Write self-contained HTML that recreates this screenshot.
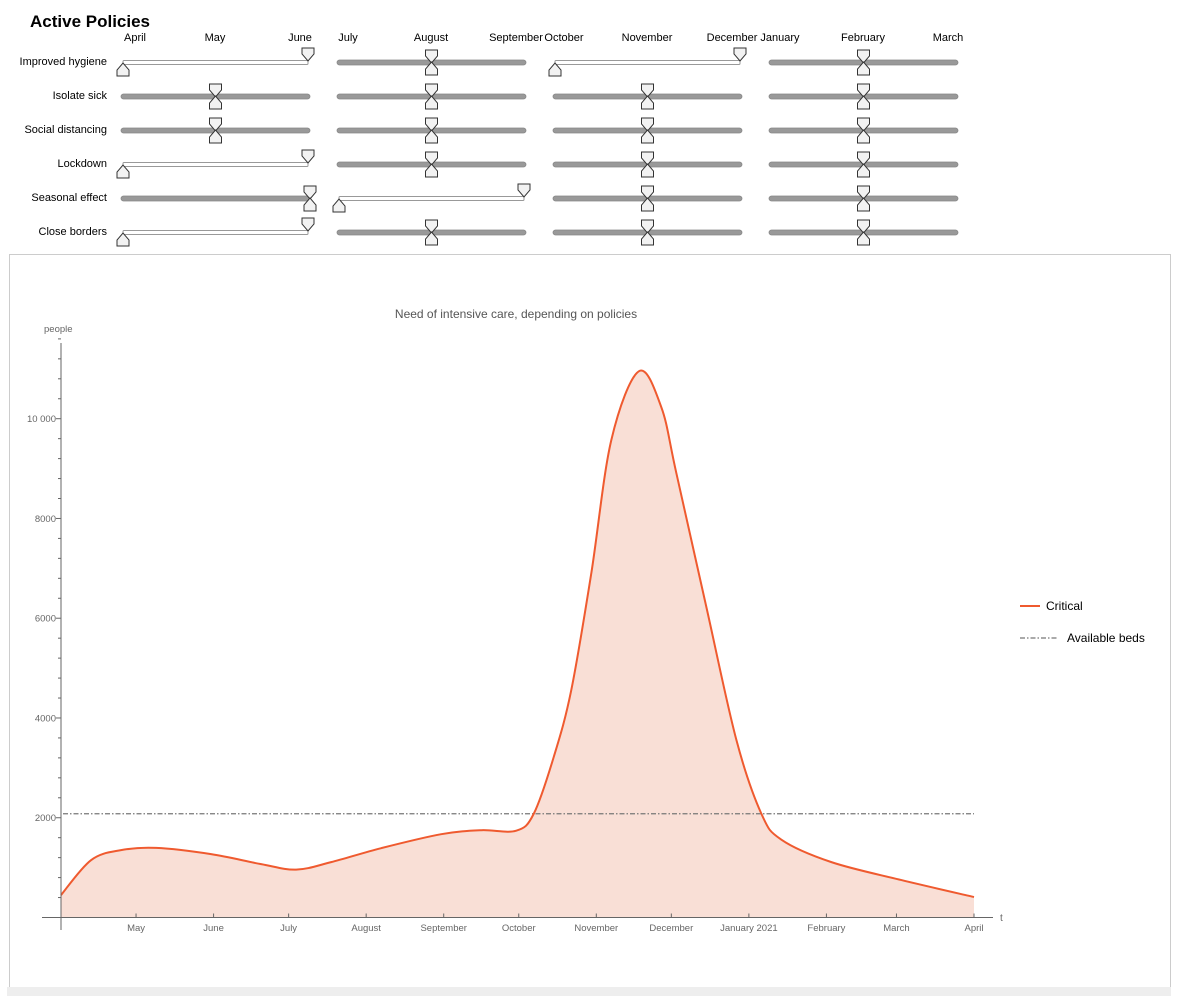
<!DOCTYPE html>
<html><head><meta charset="utf-8"><title>Active Policies</title>
<style>
html,body{margin:0;padding:0;background:#fff;width:1184px;height:998px;overflow:hidden;font-family:"Liberation Sans",sans-serif}
svg{display:block}
</style></head>
<body>
<svg id="root" width="1184" height="998" xmlns="http://www.w3.org/2000/svg">
  <text x="30" y="27" font-size="17" font-weight="bold" fill="#000">Active Policies</text>
  <g id="sliders"></g>
  <rect x="9.5" y="254.5" width="1161" height="734" fill="#fff" stroke="#ccc"/>
  <rect x="7" y="987" width="1164" height="9" fill="#eeeeee"/>
  <g id="chart"></g>
</svg>
<script>
const NS='http://www.w3.org/2000/svg';
function mk(tag,attrs,parent){const e=document.createElementNS(NS,tag);for(const k in attrs)e.setAttribute(k,attrs[k]);parent.appendChild(e);return e;}

// ----- slider panel data -----
const policies=['Improved hygiene','Isolate sick','Social distancing','Lockdown','Seasonal effect','Close borders'];
const monthLabels=[['April','May','June'],['July','August','September'],['October','November','December'],['January','February','March']];
// state: 'r' = active range, number = collapsed position (0..1)
const states=[
 ['r',0.5,'r',0.5],
 [0.5,0.5,0.5,0.5],
 [0.5,0.5,0.5,0.5],
 ['r',0.5,0.5,0.5],
 [1,'r',0.5,0.5],
 ['r',0.5,0.5,0.5]
];
const sl=document.getElementById('sliders');
const colX=[121,337,553,769], trackW=189, rowY0=62, rowDy=34;
const monthOffsets=[14,94,179];
monthLabels.forEach((ms,c)=>{
  const anchors=[[c===0?135:colX[c]+11,'middle'],[colX[c]+94,'middle'],[colX[c]+trackW-10,'middle']];
  ms.forEach((m,i)=>{
    const t=mk('text',{x:anchors[i][0],y:41,'font-size':11,'text-anchor':'middle',fill:'#000'},sl);
    
    
    t.textContent=m;
  });
});
function thumbDown(x,y,p){ // top thumb pointing down, tip at y
  const d=`M${x-6},${y-13} h12 v6 l-6,7 l-6,-7 z`;
  return mk('path',{d,fill:'#f2f2f2',stroke:'#333','stroke-width':1},p);
}
function thumbUp(x,y,p){ // bottom thumb pointing up, tip at y
  const d=`M${x-6},${y+13} h12 v-6 l-6,-7 l-6,7 z`;
  return mk('path',{d,fill:'#f2f2f2',stroke:'#333','stroke-width':1},p);
}
policies.forEach((p,r)=>{
  const y=rowY0+r*rowDy;
  const lab=mk('text',{x:107,y:y+3,'font-size':11,'text-anchor':'end',fill:'#000'},sl);
  
  
  lab.textContent=p;
  states[r].forEach((s,c)=>{
    const g=mk('g',{},sl);
    
    
    const x0=colX[c], x1=colX[c]+trackW;
    if(s==='r'){
      mk('rect',{x:x0+2,y:y-1.5,width:trackW-4,height:4,fill:'#fff',stroke:'#999','stroke-width':1,rx:1},g);
      const a=thumbUp(x0+2,y+1,g);
      
      const b=thumbDown(x1-2,y-1,g);
      
    }else{
      mk('rect',{x:x0,y:y-2,width:trackW,height:5,fill:'#999',stroke:'#888','stroke-width':0.8,rx:2.5},g);
      const tx=x0+s*trackW;
      const a=thumbDown(tx,y+1,g);
      
      const b=thumbUp(tx,y,g);
      
    }
  });
});

// ----- chart data -----
const days=[0,12,24,38,60,80,94,108,128,152,168,182,189,197,204,212,220,231,240,246,258,270,280,288,308,336,365];
const critical=[450,1150,1350,1395,1270,1070,960,1110,1390,1670,1750,1740,2080,3220,4560,6900,9570,10950,10230,8910,6225,3560,2080,1560,1110,750,410];
const bedsValue=2080;
const yTicks=[2000,4000,6000,8000,10000];
const yTickLabels=['2000','4000','6000','8000','10 000'];
const xTickDays=[30,61,91,122,153,183,214,244,275,306,334,365];
const xTickLabels=['May','June','July','August','September','October','November','December','January 2021','February','March','April'];

const ch=document.getElementById('chart');
const X0=61,X1=974,Y0=917.5,PPV=0.04988;
const xs=d=>X0+(X1-X0)*d/365;
const ys=v=>Y0-v*PPV;

// title
let t=mk('text',{x:516,y:318,'font-size':12,'text-anchor':'middle',fill:'#555'},ch);

t.textContent='Need of intensive care, depending on policies';
t=mk('text',{x:44,y:332,'font-size':9.5,fill:'#666'},ch);

t.textContent='people';
t=mk('text',{x:1000,y:921,'font-size':10,fill:'#666'},ch);

t.textContent='t';

// area + line
const pts=days.map((d,i)=>[xs(d),ys(critical[i])]);
function smooth(p){
  let d=`M${p[0][0]},${p[0][1]}`;
  for(let i=0;i<p.length-1;i++){
    const p0=p[Math.max(0,i-1)],p1=p[i],p2=p[i+1],p3=p[Math.min(p.length-1,i+2)];
    const c1=[p1[0]+(p2[0]-p0[0])/6,p1[1]+(p2[1]-p0[1])/6];
    const c2=[p2[0]-(p3[0]-p1[0])/6,p2[1]-(p3[1]-p1[1])/6];
    d+=` C${c1[0]},${c1[1]} ${c2[0]},${c2[1]} ${p2[0]},${p2[1]}`;
  }
  return d;
}
const lineD=smooth(pts);
const area=mk('path',{d:lineD+` L${pts[pts.length-1][0]},${Y0} L${pts[0][0]},${Y0} Z`,fill:'#f9dfd6'},ch);


// beds line
const bl=mk('line',{x1:xs(0)+2,x2:xs(365),y1:ys(bedsValue),y2:ys(bedsValue),stroke:'#777','stroke-width':1.3,'stroke-dasharray':'5,2,1.5,2'},ch);


const ln=mk('path',{d:lineD,fill:'none',stroke:'#ef5a2f','stroke-width':2},ch);


// axes
const ya=mk('line',{x1:X0,x2:X0,y1:343,y2:930,stroke:'#666','stroke-width':1},ch);

const xa=mk('line',{x1:42,x2:993,y1:Y0,y2:Y0,stroke:'#666','stroke-width':1},ch);

for(let v=400;v<=11600;v+=400){
  const major=v%2000===0;
  mk('line',{x1:X0-(major?5:3),x2:X0,y1:ys(v),y2:ys(v),stroke:'#666','stroke-width':1},ch);
}
yTicks.forEach((v,i)=>{
  const l=mk('text',{x:X0-5,y:ys(v)+3.5,'font-size':9.5,'text-anchor':'end',fill:'#666'},ch);
  
  l.textContent=yTickLabels[i];
});
xTickDays.forEach((d,i)=>{
  mk('line',{x1:xs(d),x2:xs(d),y1:Y0,y2:Y0-4,stroke:'#666','stroke-width':1},ch);
  const l=mk('text',{x:xs(d),y:931,'font-size':9.5,'text-anchor':'middle',fill:'#666'},ch);
  
  l.textContent=xTickLabels[i];
});

// legend
let lg=mk('g',{},ch);

mk('line',{x1:1020,x2:1040,y1:606,y2:606,stroke:'#ef5a2f','stroke-width':2},lg);
t=mk('text',{x:1046,y:610,'font-size':12,fill:'#000'},lg);t.textContent='Critical';
lg=mk('g',{},ch);

mk('line',{x1:1020,x2:1058,y1:638,y2:638,stroke:'#777','stroke-width':1.3,'stroke-dasharray':'5,2,1.5,2'},lg);
t=mk('text',{x:1067,y:642,'font-size':12,fill:'#000'},lg);t.textContent='Available beds';
</script>
</body></html>
